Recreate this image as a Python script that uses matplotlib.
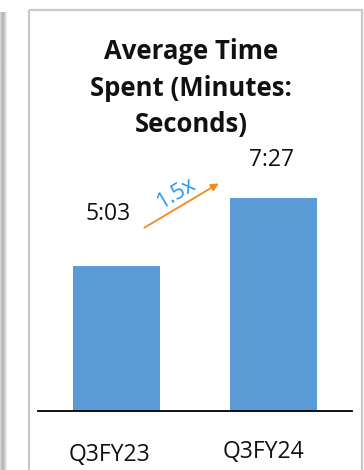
import numpy as np
import matplotlib
matplotlib.use("Agg")
import matplotlib.pyplot as plt
from matplotlib.patches import Rectangle

# data
categories = ["Q3FY23", "Q3FY24"]
seconds = [303, 447]          # 5:03 and 7:27
value_labels = ["5:03", "7:27"]
growth_label = "1.5x"

W, H = 364, 470
fig = plt.figure(figsize=(W / 100, H / 100), dpi=100)

# background layer in pixel coords
bg = fig.add_axes([0, 0, 1, 1], zorder=0)
bg.set_xlim(0, W)
bg.set_ylim(H, 0)
bg.axis("off")

# left shadow of the slide panel
shade = np.array([[0.84, 0.76, 0.72, 0.72, 0.78, 0.86, 0.93, 0.98, 1.0]])
bg.imshow(shade, cmap="gray", vmin=0, vmax=1, extent=[0, 9, H, 12],
          aspect="auto", interpolation="bilinear")
# card frame
bg.add_patch(Rectangle((29, 10), 333, H, fill=False, edgecolor="#c8c8c8", lw=1.6))

# chart axes
left, right, base = 38, 352, 410.5
scale = 0.476   # px per second
top_val = 570
ax = fig.add_axes([left / W, (H - base) / H, (right - left) / W, top_val * scale / H], zorder=1)
ax.patch.set_alpha(0)
x = np.arange(len(categories))
ax.bar(x, seconds, width=0.554, color="#5b9bd5")
ax.set_xlim(-0.5, 1.5)
ax.set_ylim(0, top_val)
for s in ["left", "right", "top"]:
    ax.spines[s].set_visible(False)
ax.spines["bottom"].set_linewidth(1.3)
ax.spines["bottom"].set_color("black")
ax.set_yticks([])
ax.set_xticks([])

# category labels under the axis
cat_offsets = [(-4.7, -36.4), (-7.2, -34.2)]
for i, cat in enumerate(categories):
    ax.annotate(cat, xy=(i, 0), xytext=cat_offsets[i], textcoords="offset points",
                ha="center", va="baseline", fontsize=16.5, family="Open Sans",
                color="#111111", annotation_clip=False)

# value labels
offsets = [(-5.8, 33), (-1.5, 23)]
for i, (v, lab) in enumerate(zip(seconds, value_labels)):
    ax.annotate(lab, xy=(i, v), xytext=offsets[i], textcoords="offset points",
                ha="center", va="baseline", fontsize=16.5, family="Open Sans", color="#111111")

# growth arrow
ax.annotate("", xy=(0.666, 480), xytext=(0.162, 381),
            arrowprops=dict(arrowstyle="-|>", color="#f5891f", lw=1.3, mutation_scale=11))
ax.text(0.379, 455, growth_label, rotation=31, ha="center", va="center",
        fontsize=15.5, family="Open Sans", color="#2196f3")

# title
fig.text(191 / W, 1 - 88 / H, "Average Time\nSpent (Minutes:\nSeconds)", ha="center", va="center",
         fontsize=18.5, fontweight="bold", family="Open Sans", linespacing=1.43, color="#111111")

fig.savefig("out.png", dpi=100)
